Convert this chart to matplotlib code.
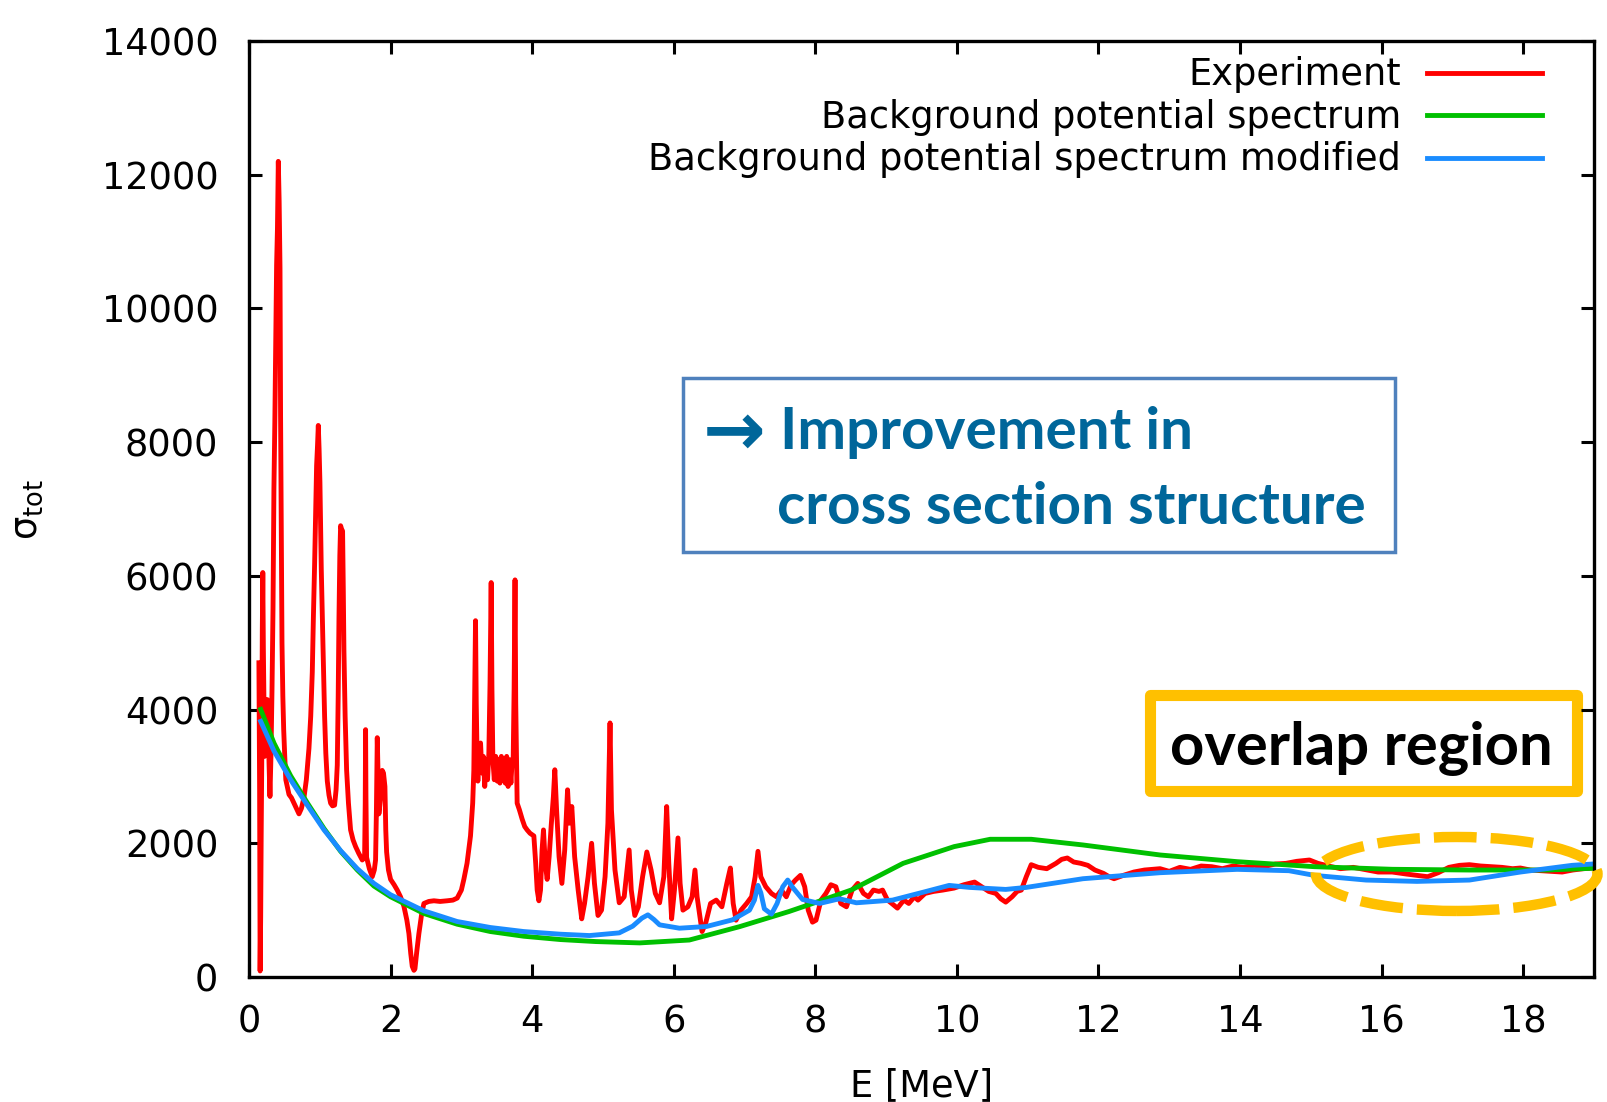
import matplotlib
matplotlib.use('Agg')
import matplotlib.pyplot as plt
from matplotlib.patches import Rectangle, Ellipse

# Experiment
exp_energy = [
    # 0.14 - 1.0 MeV
    0.140, 0.150, 0.157, 0.165, 0.172, 0.180, 0.188, 0.195, 0.203, 0.212,
    0.222, 0.232, 0.245, 0.258, 0.270, 0.283, 0.296, 0.310, 0.325, 0.339,
    0.352, 0.365, 0.378, 0.390, 0.402, 0.414, 0.426, 0.438, 0.446, 0.455,
    0.466, 0.478, 0.490, 0.505, 0.520, 0.540, 0.565, 0.600, 0.635, 0.670,
    0.706, 0.740, 0.776, 0.810, 0.847, 0.872, 0.894, 0.910, 0.927, 0.942,
    0.955, 0.968, 0.979, 0.990, 1.002,
    # 1.0 - 2.95 MeV
    1.012, 1.021, 1.033, 1.045, 1.068, 1.085, 1.106, 1.130, 1.153, 1.180,
    1.209, 1.230, 1.247, 1.260, 1.271, 1.283, 1.294, 1.308, 1.322, 1.332,
    1.341, 1.358, 1.379, 1.405, 1.435, 1.470, 1.506, 1.550, 1.600, 1.633,
    1.642, 1.647, 1.652, 1.661, 1.700, 1.741, 1.770, 1.788, 1.800, 1.812,
    1.822, 1.835, 1.860, 1.882, 1.900, 1.920, 1.932, 1.944, 1.970, 2.000,
    2.050, 2.094, 2.140, 2.188, 2.230, 2.259, 2.285, 2.306, 2.330, 2.344,
    2.370, 2.400, 2.440, 2.471, 2.540, 2.612, 2.700, 2.800, 2.880, 2.941,
    # 3.0 - 4.3 MeV
    3.000, 3.035, 3.080, 3.129, 3.160, 3.176, 3.188, 3.200, 3.210, 3.222,
    3.233, 3.250, 3.271, 3.290, 3.310, 3.330, 3.350, 3.370, 3.388, 3.405,
    3.421, 3.432, 3.445, 3.465, 3.485, 3.506, 3.525, 3.545, 3.565, 3.585,
    3.600, 3.620, 3.640, 3.660, 3.680, 3.700, 3.718, 3.732, 3.745, 3.758,
    3.768, 3.788, 3.820, 3.859, 3.895, 3.929, 3.970, 4.024, 4.050, 4.071,
    4.095, 4.118, 4.140, 4.160, 4.185, 4.212, 4.240, 4.270, 4.300, 4.320,
    # 4.3 - 8.9 MeV
    4.345, 4.380, 4.420, 4.460, 4.500, 4.525, 4.560, 4.600, 4.650, 4.700,
    4.740, 4.790, 4.840, 4.880, 4.930, 4.980, 5.030, 5.070, 5.100, 5.120,
    5.170, 5.230, 5.300, 5.370, 5.400, 5.450, 5.500, 5.560, 5.620, 5.680,
    5.740, 5.800, 5.860, 5.900, 5.930, 5.970, 6.010, 6.060, 6.090, 6.130,
    6.200, 6.260, 6.300, 6.330, 6.400, 6.450, 6.520, 6.600, 6.680, 6.750,
    6.800, 6.840, 6.880, 6.950, 7.030, 7.100, 7.150, 7.190, 7.230, 7.300,
    7.380, 7.450, 7.520, 7.590, 7.660, 7.720, 7.790, 7.850, 7.900, 7.960,
    8.010, 8.080, 8.150, 8.220, 8.290, 8.360, 8.440, 8.520, 8.600, 8.680,
    8.750, 8.820, 8.900,
    # 8.9 - 19 MeV
    8.950, 9.020, 9.080, 9.160, 9.250, 9.320, 9.400, 9.450, 9.550, 9.670,
    9.800, 9.960, 10.100, 10.250, 10.350, 10.450, 10.550, 10.620, 10.690, 10.780,
    10.850, 10.910, 10.980, 11.050, 11.150, 11.270, 11.400, 11.480, 11.560, 11.650,
    11.750, 11.850, 11.950, 12.070, 12.150, 12.220, 12.350, 12.500, 12.650, 12.870,
    13.000, 13.150, 13.300, 13.450, 13.600, 13.750, 13.900, 14.050, 14.200, 14.330,
    14.500, 14.650, 14.800, 14.980, 15.100, 15.250, 15.420, 15.600, 15.800, 15.950,
    16.150, 16.350, 16.500, 16.650, 16.800, 16.950, 17.100, 17.240, 17.400, 17.550,
    17.700, 17.850, 17.960, 18.100, 18.250, 18.400, 18.550, 18.700, 18.850, 18.980,
]
exp_sigma = [
    4700, 2800, 90, 900, 2100, 3200, 5200, 6050, 4900, 4050,
    3300, 3900, 3600, 4150, 3900, 3200, 2700, 3300, 4300, 5500,
    7300, 8300, 9500, 10650, 11200, 12200, 11600, 10600, 8400, 6800,
    5000, 4200, 3700, 3300, 2950, 2850, 2730, 2680, 2600, 2520,
    2440, 2520, 2680, 2950, 3420, 3900, 4560, 5400, 6180, 7000,
    7650, 7950, 8250, 7900, 7400,

    6700, 6100, 5500, 4960, 3900, 3350, 2930, 2720, 2600, 2560,
    2570, 2800, 3170, 4200, 5370, 6300, 6750, 6700, 6670, 5800,
    4880, 3900, 3090, 2600, 2200, 2050, 1950, 1850, 1750, 1790,
    2600, 3700, 2700, 1790, 1620, 1500, 1600, 1750, 2500, 3580,
    3100, 2440, 2700, 3090, 3050, 2850, 2200, 1870, 1600, 1460,
    1380, 1300, 1200, 1060, 850, 650, 350, 160, 100, 120,
    380, 650, 950, 1100, 1130, 1140, 1130, 1140, 1150, 1180,

    1300, 1460, 1700, 2110, 2600, 3090, 4200, 5330, 4100, 3300,
    2930, 3400, 3500, 3050, 3300, 2850, 3250, 2950, 3340, 4400,
    5900, 4300, 3250, 2950, 3300, 2930, 3250, 2900, 3300, 2950,
    3250, 2900, 3300, 2850, 3250, 2900, 3250, 3250, 4300, 5940,
    4100, 2600, 2500, 2360, 2250, 2200, 2150, 2110, 1700, 1300,
    1140, 1300, 1900, 2200, 1700, 1460, 1800, 2280, 2700, 3100,

    2500, 1800, 1400, 1900, 2800, 2300, 2550, 1800, 1300, 870,
    1100, 1500, 2000, 1400, 920, 1000, 1500, 2300, 3800, 2500,
    1600, 1110, 1200, 1900, 1300, 920, 1050, 1500, 1870, 1600,
    1250, 1110, 1500, 2550, 1700, 870, 1300, 2080, 1400, 1000,
    1050, 1200, 1600, 1200, 680, 800, 1100, 1150, 1050, 1400,
    1630, 1100, 850, 1000, 1100, 1200, 1500, 1880, 1500, 1350,
    1250, 1200, 1300, 1200, 1380, 1450, 1520, 1350, 1000, 820,
    850, 1150, 1250, 1380, 1350, 1100, 1050, 1300, 1400, 1250,
    1200, 1300, 1280,

    1300, 1150, 1100, 1030, 1150, 1100, 1200, 1150, 1250, 1280,
    1300, 1330, 1380, 1420, 1350, 1280, 1250, 1170, 1120, 1200,
    1280, 1300, 1500, 1680, 1640, 1620, 1700, 1760, 1780, 1720,
    1700, 1670, 1600, 1550, 1500, 1470, 1520, 1570, 1600, 1620,
    1580, 1640, 1610, 1660, 1650, 1620, 1660, 1640, 1670, 1650,
    1690, 1700, 1730, 1750, 1700, 1660, 1620, 1640, 1600, 1570,
    1570, 1540, 1520, 1500, 1560, 1640, 1670, 1680, 1660, 1650,
    1640, 1620, 1630, 1600, 1590, 1580, 1570, 1600, 1620, 1630,
]

# Background potential spectrum
bg_energy = [0.165, 0.353, 0.588, 0.824, 1.06, 1.294, 1.53, 1.765, 2.0, 2.47,
             2.94, 3.41, 3.88, 4.4, 4.9, 5.52, 6.22, 6.93, 7.63, 8.1,
             8.51, 9.24, 9.96, 10.47, 11.05, 11.78, 12.87, 13.96, 15.05, 16.15,
             17.24, 18.33, 18.98]
bg_sigma = [4003, 3498, 3010, 2604, 2220, 1880, 1600, 1360, 1200, 950,
            790, 680, 610, 560, 530, 510, 553, 753, 980, 1150,
            1302, 1700, 1950, 2060, 2060, 1975, 1825, 1725, 1650, 1611,
            1600, 1600, 1626]

# Background potential spectrum modified
mod_energy = [0.165, 0.353, 0.588, 0.824, 1.06, 1.294, 1.53, 1.765, 2.0, 2.47,
              2.94, 3.41, 3.88, 4.4, 4.81, 5.23, 5.42, 5.55, 5.635, 5.72,
              5.80, 6.08, 6.46, 6.83, 7.07, 7.14, 7.19, 7.23, 7.28, 7.38,
              7.46, 7.54, 7.61, 7.68, 7.82, 8.06, 8.34, 8.58, 9.09, 9.53,
              9.89, 10.18, 10.69, 10.98, 11.78, 12.87, 13.96, 14.69, 15.05, 15.78,
              16.5, 17.24, 17.96, 18.69, 18.98]
mod_sigma = [3824, 3380, 2950, 2570, 2200, 1890, 1620, 1400, 1230, 990,
             830, 740, 680, 640, 620, 660, 760, 880, 930, 860,
             780, 730, 755, 855, 1000, 1150, 1370, 1260, 1020, 940,
             1100, 1350, 1450, 1340, 1160, 1100, 1170, 1110, 1150, 1270,
             1370, 1340, 1310, 1340, 1470, 1560, 1610, 1590, 1520, 1450,
             1430, 1450, 1570, 1670, 1690]

labels = ['Experiment', 'Background potential spectrum',
          'Background potential spectrum modified']

plt.rcParams['font.family'] = ['DejaVu Sans']
plt.rcParams['mathtext.fontset'] = 'dejavusans'
fs = 26.5

fig = plt.figure(figsize=(16.08, 11.02), dpi=100)
ax = fig.add_axes([249 / 1608, 125 / 1102, 1345 / 1608, 936 / 1102])

ax.plot(exp_energy, exp_sigma, color='#ff0000', lw=3.5, label=labels[0])
ax.plot(bg_energy, bg_sigma, color='#00c000', lw=3.5, label=labels[1])
ax.plot(mod_energy, mod_sigma, color='#1a8cff', lw=3.5, label=labels[2])

ax.set_xlim(0, 19)
ax.set_ylim(0, 14000)
ax.set_xticks(range(0, 19, 2))
ax.set_yticks(range(0, 14001, 2000))
ax.tick_params(direction='in', length=9.5, width=2.2, labelsize=fs,
               top=True, right=True)
ax.tick_params(axis='x', pad=19)
ax.tick_params(axis='y', pad=22)
for s in ax.spines.values():
    s.set_linewidth(2.4)

ax.set_xlabel('E [MeV]', fontsize=fs)
ax.xaxis.label.set_va('baseline')
ax.xaxis.set_label_coords(0.5, -0.127)
ax.text(-0.1657, 0.499, 'σ$_{\\mathrm{tot}}$', transform=ax.transAxes,
        rotation=90, ha='center', va='center', fontsize=fs)

ax.legend(loc='upper right', bbox_to_anchor=(0.9614, 0.9835), markerfirst=False,
          frameon=False, fontsize=fs, handlelength=3.13, handletextpad=0.7,
          labelspacing=0.15, borderpad=0, borderaxespad=0)

# annotation box: improvement
ax.add_patch(Rectangle((0.3228, 0.4541), 0.529, 0.1854, transform=ax.transAxes,
                       fill=False, edgecolor='#4f81bd', lw=2.5, clip_on=False))
txt_col = '#00669a'
ax.text(0.3375, 0.5585, '\u2192', transform=ax.transAxes,
        ha='left', va='baseline', fontsize=54, fontweight='bold',
        color=txt_col, family=['DejaVu Sans'])
ax.text(0.3945, 0.5641, 'Improvement in', transform=ax.transAxes,
        ha='left', va='baseline', fontsize=42, fontweight='bold',
        color=txt_col, family=['Lato', 'DejaVu Sans'])
ax.text(0.3923, 0.484, 'cross section structure', transform=ax.transAxes,
        ha='left', va='baseline', fontsize=42, fontweight='bold',
        color=txt_col, family=['Lato', 'DejaVu Sans'])

# annotation box: overlap region
ax.add_patch(Rectangle((0.6698, 0.1982), 0.3172, 0.1026, transform=ax.transAxes,
                       fill=False, edgecolor='#ffc000', lw=8, joinstyle='round',
                       clip_on=False))
ax.text(0.8273, 0.2265, 'overlap region', transform=ax.transAxes,
        ha='center', va='baseline', fontsize=43, fontweight='bold',
        color='black', family=['Lato', 'DejaVu Sans'])

ax.add_patch(Ellipse((17.06, 1541), 3.98, 1107, fill=False, edgecolor='#ffc000',
                     lw=7.5, linestyle=(0, (4.1, 1.35)), clip_on=False, zorder=5))

fig.savefig('out.png', dpi=100)
